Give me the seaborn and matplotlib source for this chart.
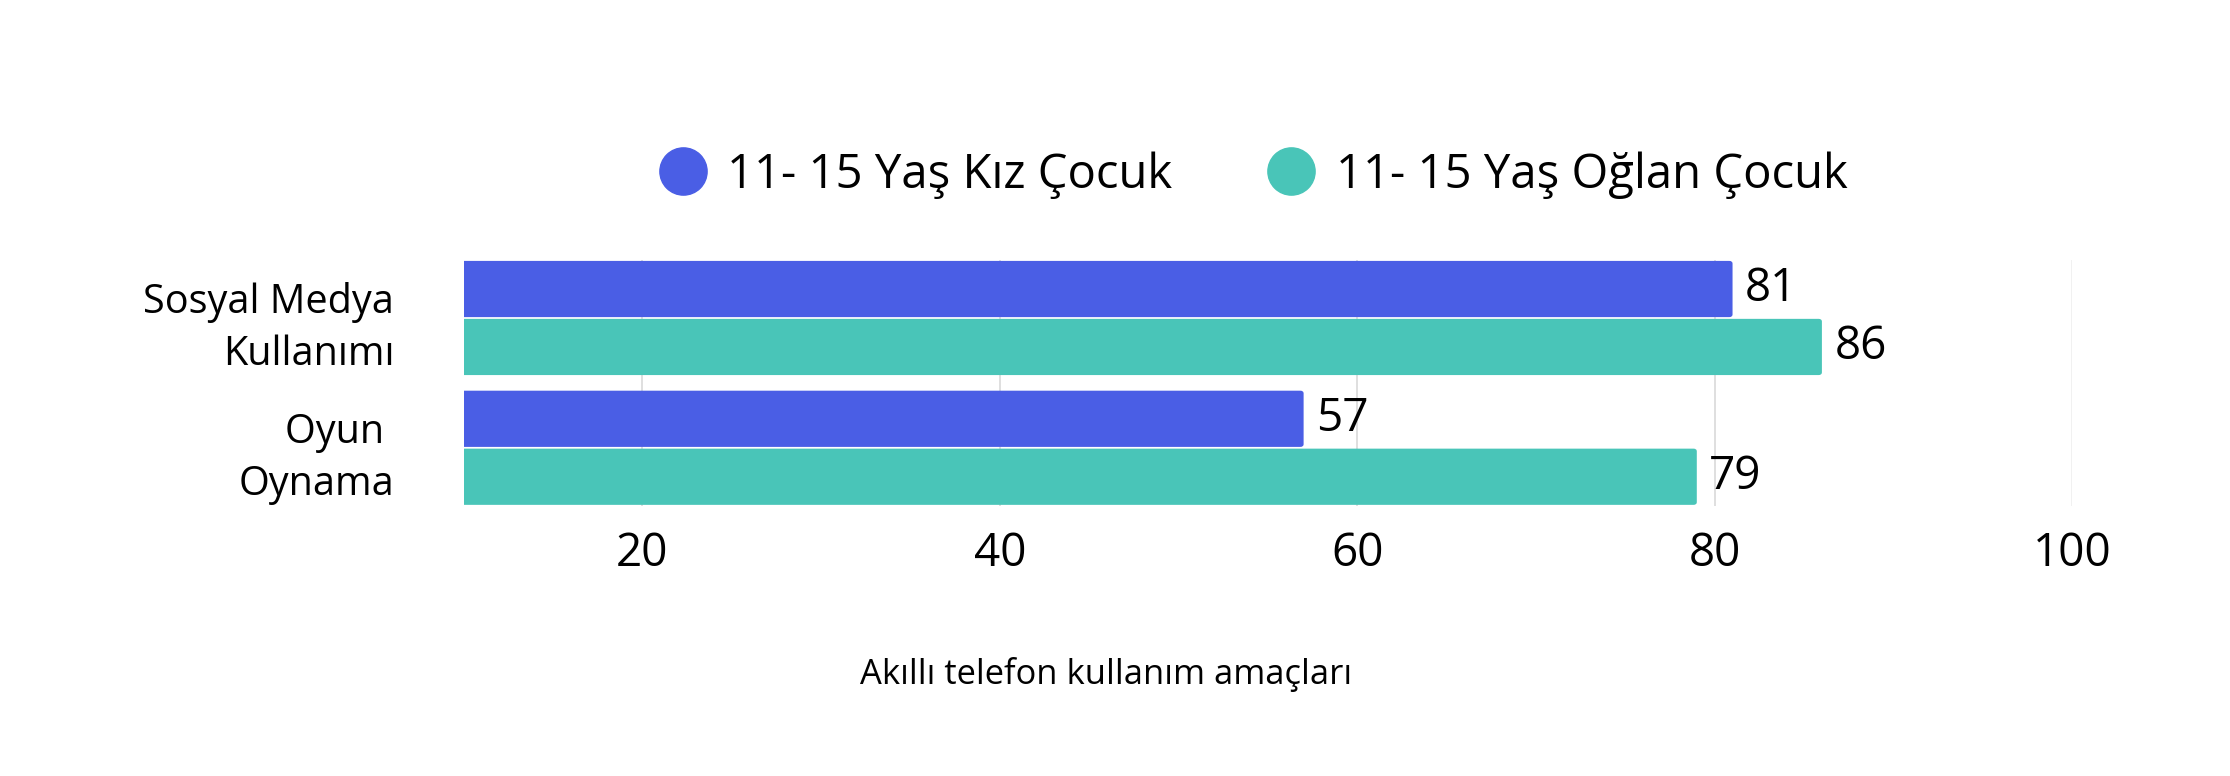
import matplotlib
matplotlib.use("Agg")
import matplotlib.pyplot as plt
import seaborn as sns
import pandas as pd
from matplotlib.lines import Line2D
from matplotlib.patches import FancyBboxPatch

categories = ["Sosyal Medya\nKullanımı", "Oyun \nOynama"]
series_names = ["11- 15 Yaş Kız Çocuk", "11- 15 Yaş Oğlan Çocuk"]
girls = [81, 57]
boys = [86, 79]
x_ticks = [20, 40, 60, 80, 100]
x_title = "Akıllı telefon kullanım amaçları"
colors = ["#4a5ee5", "#49c5b8"]

df = pd.DataFrame({
    "category": categories * 2,
    "group": [series_names[0]] * 2 + [series_names[1]] * 2,
    "value": girls + boys,
})

sns.set_theme(style="white")
plt.rcParams["font.family"] = ["Open Sans", "DejaVu Sans"]
plt.rcParams["text.color"] = "black"

fig = plt.figure(figsize=(22.3, 7.76), dpi=100)
ax = fig.add_axes([0.2079, 0.3483, 0.7213, 0.3166])

sns.barplot(data=df, y="category", x="value", hue="group", orient="h",
            palette=colors, saturation=1, width=0.893, gap=0.03, linewidth=0,
            legend=False, ax=ax)

ax.set_xlim(10, 100)
ax.set_ylim(1.4465, -0.4465)

# slightly rounded bar ends
for p in list(ax.patches):
    x0, y0 = p.get_x(), p.get_y()
    w, h = p.get_width(), p.get_height()
    fc = p.get_facecolor()
    rb = FancyBboxPatch((x0, y0), w, h,
                        boxstyle="round,pad=0,rounding_size=0.18",
                        mutation_aspect=0.12, facecolor=fc, edgecolor="none",
                        zorder=p.get_zorder())
    p.set_visible(False)
    ax.add_patch(rb)
# cover rounding on left side
for p in ax.patches:
    pass

ax.set_xticks(x_ticks)
ax.set_xticklabels([str(t) for t in x_ticks])
ax.set_axisbelow(True)
ax.grid(axis="x", color="#d9d9d9", linewidth=1.2)
ax.grid(axis="y", visible=False)
gl = ax.get_xgridlines()
gl[-1].set_color("#efefef")
for s in ax.spines.values():
    s.set_visible(False)
ax.tick_params(axis="x", length=0, pad=18, labelsize=33, labelcolor="black")
ax.tick_params(axis="y", length=0, pad=50, labelsize=28.5, labelcolor="black")
for lbl in ax.get_yticklabels():
    lbl.set_linespacing(1.38)
ax.set_xlabel("")
ax.set_ylabel("")

for cont in ax.containers:
    ax.bar_label(cont, fmt="%d", padding=9, fontsize=33, color="black")

handles = [Line2D([0], [0], marker="o", linestyle="", markersize=34,
                  markerfacecolor=c, markeredgecolor=c) for c in colors]
fig.legend(handles, series_names, loc="center", bbox_to_anchor=(0.562, 0.7745),
           ncol=2, frameon=False, fontsize=34, handlelength=1.0,
           handletextpad=0.45, columnspacing=2.0, labelcolor="black")

fig.text(0.496, 0.1314, x_title, ha="center", va="center", fontsize=24.8, color="black")

fig.savefig("out.png", dpi=100, facecolor="white")
